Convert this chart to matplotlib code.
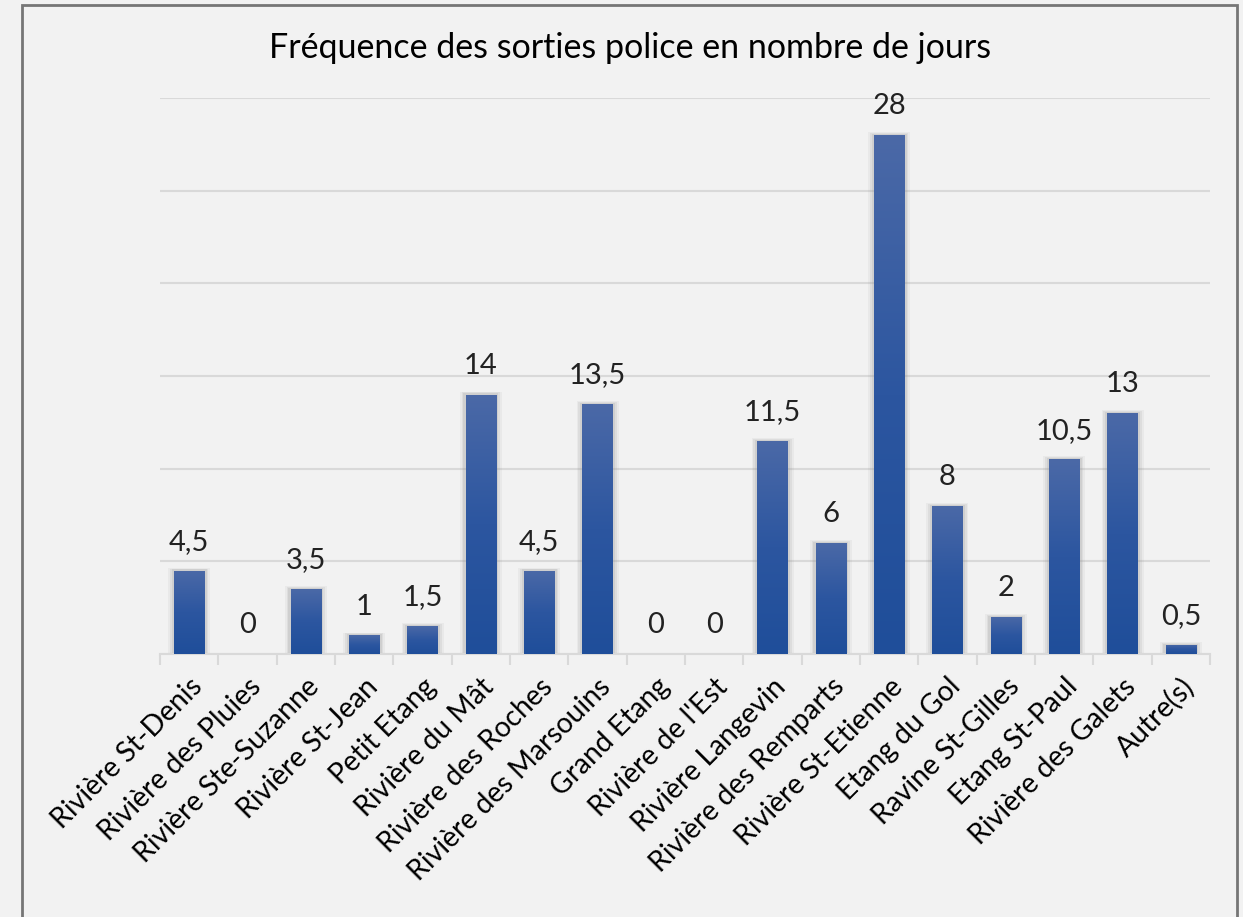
import matplotlib
matplotlib.use("Agg")
import matplotlib.pyplot as plt
import numpy as np
from matplotlib.patches import Rectangle
from matplotlib.colors import LinearSegmentedColormap

categories = ["Rivière St-Denis", "Rivière des Pluies", "Rivière Ste-Suzanne",
              "Rivière St-Jean", "Petit Etang", "Rivière du Mât", "Rivière des Roches",
              "Rivière des Marsouins", "Grand Etang", "Rivière de l'Est",
              "Rivière Langevin", "Rivière des Remparts", "Rivière St-Etienne",
              "Etang du Gol", "Ravine St-Gilles", "Etang St-Paul",
              "Rivière des Galets", "Autre(s)"]
values = [4.5, 0, 3.5, 1, 1.5, 14, 4.5, 13.5, 0, 0, 11.5, 6, 28, 8, 2, 10.5, 13, 0.5]
labels = ["4,5", "0", "3,5", "1", "1,5", "14", "4,5", "13,5", "0", "0",
          "11,5", "6", "28", "8", "2", "10,5", "13", "0,5"]
title = "Fréquence des sorties police en nombre de jours"

plt.rcParams['font.family'] = ['Lato', 'DejaVu Sans']
bg = "#f2f2f2"
fig = plt.figure(figsize=(12.43, 9.17), dpi=100, facecolor=bg)
fig.patches.append(Rectangle((22/1243, -0.05), (1237-22)/1243, 1.05 - 5/917,
                             transform=fig.transFigure, fill=False,
                             edgecolor="#767676", linewidth=2, zorder=0))
ax = fig.add_axes([160/1243, 263/917, 1050/1243, (654-98)/917])
ax.set_facecolor(bg)
ax.set_xlim(-0.5, len(categories) - 0.5)
ax.set_ylim(0, 30)
ax.set_yticks(np.arange(0, 31, 5))
ax.yaxis.grid(True, color="#d9d9d9", linewidth=1.5)
ax.set_axisbelow(True)
ax.tick_params(axis='y', length=0, labelleft=False)
for s in ["top", "right", "left"]:
    ax.spines[s].set_visible(False)
ax.spines["bottom"].set_color("#d9d9d9")
ax.spines["bottom"].set_linewidth(1.5)

x = np.arange(len(categories))
ax.set_xticks(x)
ax.set_xticklabels(categories, rotation=45, ha="right", rotation_mode="anchor",
                   fontsize=20.3, color="#000000")
ax.tick_params(axis='x', length=0, pad=14)
ax.set_xticks(np.arange(-0.5, len(categories), 1), minor=True)
ax.tick_params(axis='x', which='minor', length=8, color="#d9d9d9", width=1.5)

cmap = LinearSegmentedColormap.from_list("g", ["#1f4e9a", "#2c56a0", "#4b69a7"])
grad = np.linspace(0, 1, 256).reshape(-1, 1)
w = 0.52
for xi, v, lab in zip(x, values, labels):
    if v > 0:
        for k, a in [(0.1, 0.10), (0.07, 0.15), (0.04, 0.2)]:
            ax.add_patch(Rectangle((xi - w/2 - k, 0), w + 2*k, v + k*1.6,
                                   facecolor="#9a9a9a", alpha=a, edgecolor="none", zorder=2))
        bar = ax.bar(xi, v, width=w, color="#2a55a0", zorder=3)[0]
        im = ax.imshow(grad, extent=[xi - w/2, xi + w/2, 0, v], origin="lower",
                       cmap=cmap, aspect="auto", zorder=4)
        im.set_clip_path(bar)
    ax.text(xi, v + 0.85, lab, ha="center", va="bottom", fontsize=21, color="#222222")
ax.set_xlim(-0.5, len(categories) - 0.5)
ax.set_ylim(0, 30)

fig.text(630/1243, 1 - 48/917, title, ha="center", va="center", fontsize=24.5, color="#000000")
fig.savefig("out.png", dpi=100, facecolor=bg)
